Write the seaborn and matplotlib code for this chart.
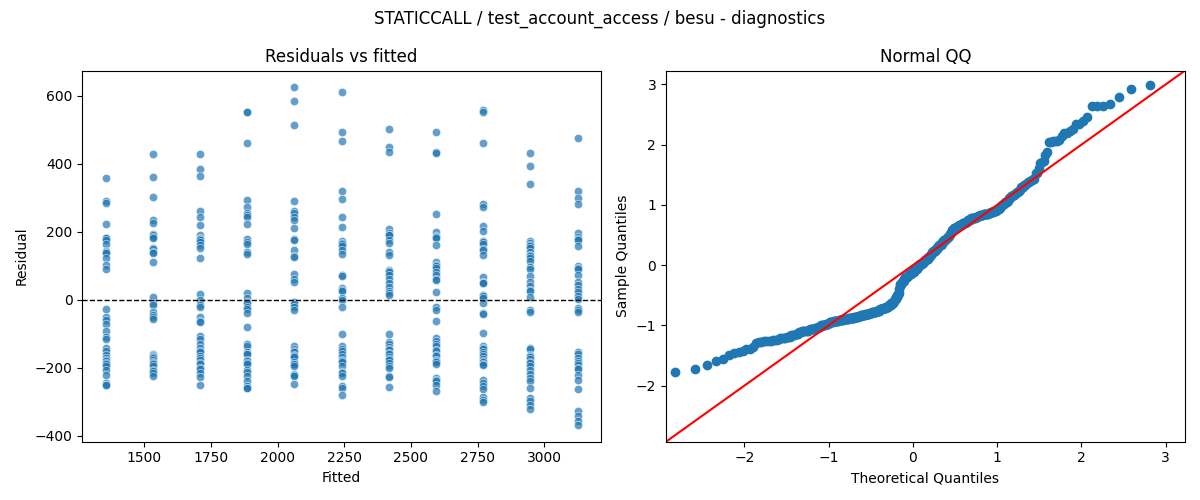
# Residual diagnostics for STATICCALL / test_account_access / besu

from statistics import NormalDist

import matplotlib
matplotlib.use("Agg")
import matplotlib.pyplot as plt
import numpy as np
import pandas as pd
import seaborn as sns


# fitted value of each group (one per test size)
fitted_vals = [1355, 1532, 1709, 1886, 2063, 2240, 2417, 2594, 2771, 2948, 3125]

res_1355 = [358, 291, 284, 222, 182, 181, 175, 165, 145, 142, 139, 123, 103, 91,
            -27, -51, -59, -71, -93, -108, -116, -142, -150, -162, -170, -176,
            -180, -186, -188, -195, -206, -220, -245, -250, -250]
res_1532 = [428, 361, 302, 235, 225, 194, 190, 186, 181, 152, 150, 142, 139, 111,
            7, -10, -15, -37, -44, -51, -57, -159, -162, -165, -168, -172, -178,
            -182, -186, -190, -194, -206, -210, -216, -224]
res_1709 = [428, 384, 363, 260, 243, 220, 191, 183, 180, 176, 169, 160, 152, 123,
            18, 0, -15, -22, -51, -61, -64, -106, -116, -129, -142, -150, -155,
            -165, -170, -176, -185, -188, -201, -205, -216, -227, -250]
res_1886 = [552, 552, 461, 294, 272, 257, 250, 245, 223, 178, 170, 165, 140, 134,
            20, 5, -5, -10, -22, -27, -39, -80, -129, -135, -155, -159, -160,
            -176, -180, -186, -190, -206, -211, -225, -240, -255, -260, -260]
res_2063 = [625, 586, 515, 291, 262, 255, 245, 235, 211, 180, 176, 147, 130, 125,
            76, 60, 52, -5, -13, -22, -31, -137, -145, -150, -155, -162, -165,
            -169, -184, -188, -190, -194, -218, -220, -224, -247]
res_2240 = [611, 493, 466, 320, 296, 243, 214, 174, 167, 165, 159, 147, 135, 74,
            69, 34, 30, 25, 5, -2, -20, -101, -137, -145, -150, -160, -169, -176,
            -180, -184, -195, -211, -215, -225, -255, -260, -279]
res_2417 = [502, 451, 436, 209, 196, 191, 190, 176, 167, 142, 132, 88, 85, 83, 74,
            61, 49, 39, 25, 20, 15, -101, -123, -129, -139, -145, -149, -157,
            -160, -169, -175, -178, -185, -196, -200, -223, -227, -257]
res_2594 = [493, 434, 431, 252, 201, 188, 185, 181, 162, 110, 103, 100, 93, 83, 74,
            60, 59, 23, -20, -31, -62, -113, -120, -129, -137, -147, -150, -162,
            -165, -176, -180, -184, -190, -230, -235, -240, -250, -267]
res_2771 = [559, 552, 461, 281, 274, 216, 204, 172, 170, 165, 150, 147, 132, 67,
            52, 50, 49, 15, 10, 5, -10, -39, -42, -98, -135, -142, -145, -155,
            -160, -165, -174, -180, -184, -190, -191, -235, -245, -253, -263,
            -286, -294, -302]
res_2948 = [431, 395, 340, 174, 167, 160, 159, 152, 142, 132, 130, 123, 113, 98,
            90, 69, 52, 42, 30, 25, 7, -29, -37, -142, -145, -162, -165, -169,
            -175, -182, -185, -194, -206, -218, -230, -240, -260, -289, -299,
            -309, -321]
res_3125 = [475, 320, 301, 281, 196, 186, 180, 176, 159, 100, 95, 91, 74, 52, 45,
            31, 22, 10, 2, -25, -29, -37, -155, -160, -170, -181, -185, -191,
            -200, -204, -220, -237, -262, -328, -343, -358, -368]

groups = [res_1355, res_1532, res_1709, res_1886, res_2063, res_2240,
          res_2417, res_2594, res_2771, res_2948, res_3125]

df = pd.DataFrame({
    "fitted": np.concatenate([[f] * len(g) for f, g in zip(fitted_vals, groups)]),
    "resid": np.concatenate(groups),
})

# standardised residuals against normal quantiles, plotting position i/(n+1)
std_resid = np.sort((df["resid"] - df["resid"].mean()) / df["resid"].std())
n = len(std_resid)
theo_q = np.array([NormalDist().inv_cdf(i / (n + 1)) for i in range(1, n + 1)])

fig, axes = plt.subplots(1, 2, figsize=(12, 5), dpi=100)
fig.suptitle("STATICCALL / test_account_access / besu - diagnostics")

# left: residuals vs fitted
ax = axes[0]
sns.scatterplot(data=df, x="fitted", y="resid", ax=ax, alpha=0.7)
ax.axhline(0, color="k", linestyle="--", linewidth=1)
ax.set_title("Residuals vs fitted")
ax.set_xlabel("Fitted")
ax.set_ylabel("Residual")

# right: normal QQ
ax = axes[1]
sns.scatterplot(x=theo_q, y=std_resid, ax=ax, color="C0", edgecolor="C0",
                linewidth=1, s=36)
lims = (-2.93, 3.23)
ax.set_xlim(lims)
ax.set_ylim(lims)
ax.axline((0, 0), slope=1, color="r")
ax.set_title("Normal QQ")
ax.set_xlabel("Theoretical Quantiles")
ax.set_ylabel("Sample Quantiles")

plt.tight_layout()
plt.savefig("out.png")
